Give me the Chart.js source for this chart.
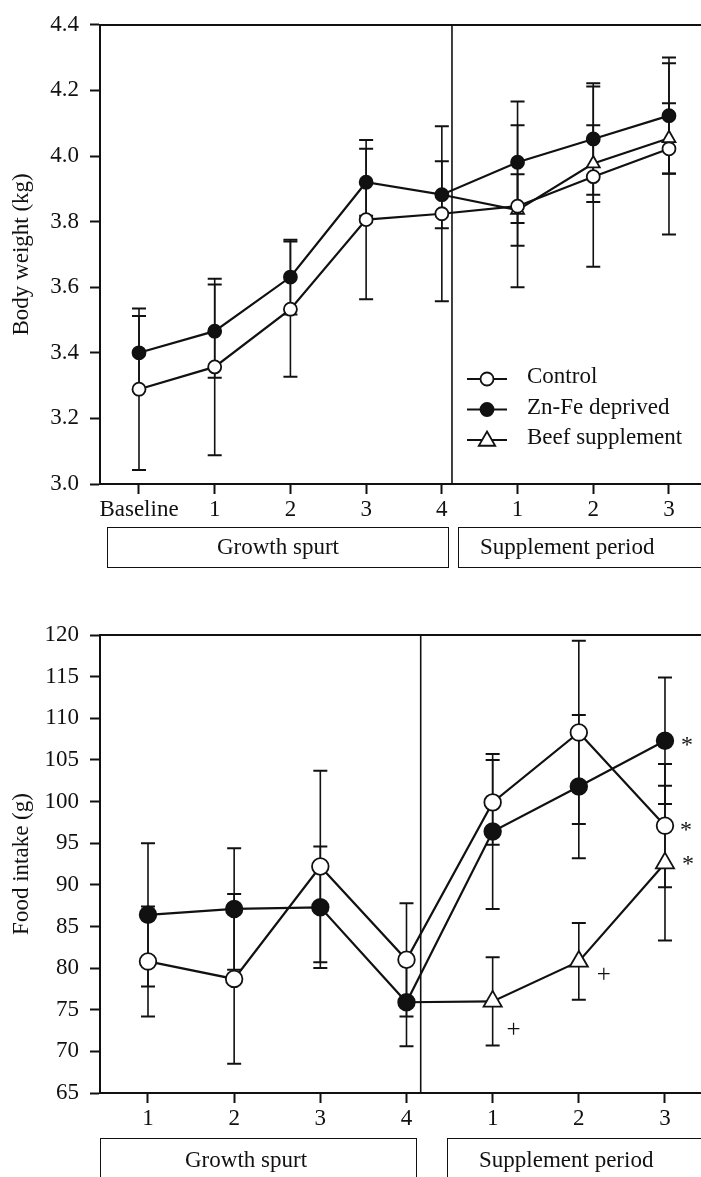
<!DOCTYPE html>
<html>
<head>
<meta charset="utf-8">
<script src="https://cdn.jsdelivr.net/npm/chart.js@4.4.1/dist/chart.umd.min.js"></script>
<style>
  html, body { margin: 0; padding: 0; background: #fff; }
  body { width: 701px; height: 1177px; position: relative; overflow: hidden; font-family: "Liberation Serif", "Times New Roman", serif; }
  canvas { position: absolute; left: 0; }
  #weightChart { top: 0; }
  #intakeChart { top: 590px; }
  .period { position: absolute; box-sizing: border-box; border: 1.5px solid #111; font-size: 23px; color: #111; white-space: nowrap; }
</style>
</head>
<body>
<canvas id="weightChart" width="701" height="600"></canvas>
<canvas id="intakeChart" width="701" height="587"></canvas>

<div class="period" style="left:107px;top:527px;width:342px;height:41px;line-height:38px;text-align:center;">Growth spurt</div>
<div class="period" style="left:458px;top:527px;width:300px;height:41px;line-height:38px;padding-left:21px;">Supplement period</div>
<div class="period" style="left:100px;top:1138px;width:317px;height:60px;line-height:42px;padding-left:84px;">Growth spurt</div>
<div class="period" style="left:447px;top:1138px;width:300px;height:60px;line-height:42px;padding-left:31px;">Supplement period</div>

<script>
// ------------------ Data ------------------
const seriesNames = ['Control', 'Zn-Fe deprived', 'Beef supplement'];

// body weight (kg), mean and SD per week
const weekLabels = ['Baseline', '1', '2', '3', '4', '1', '2', '3'];
const weightTicks = [3.0, 3.2, 3.4, 3.6, 3.8, 4.0, 4.2, 4.4];
const controlWeight = [3.289, 3.357, 3.533, 3.806, 3.824, 3.847, 3.937, 4.022];
const controlWeightSd = [0.246, 0.269, 0.206, 0.243, 0.267, 0.247, 0.275, 0.261];
const znfeWeight = [3.4, 3.466, 3.631, 3.92, 3.882, 3.981, 4.052, 4.123];
const znfeWeightSd = [0.112, 0.142, 0.114, 0.102, 0.102, 0.185, 0.17, 0.177];
const beefWeight = [null, null, null, null, 3.882, 3.835, 3.977, 4.054];
const beefWeightSd = [null, null, null, null, null, 0.109, 0.117, 0.107];

// food intake (g)
const intakeLabels = ['1', '2', '3', '4', '1', '2', '3'];
const intakeTicks = [65, 70, 75, 80, 85, 90, 95, 100, 105, 110, 115, 120];
const controlIntake = [80.8, 78.7, 92.2, 81.0, 99.9, 108.3, 97.1];
const controlIntakeSd = [6.6, 10.2, 11.5, 6.8, 5.1, 11.0, 7.4];
const znfeIntake = [86.4, 87.1, 87.3, 75.9, 96.4, 101.8, 107.3];
const znfeIntakeSd = [8.6, 7.3, 7.3, 5.3, 9.3, 8.6, 7.6];
const beefIntake = [null, null, null, 75.9, 76.0, 80.8, 92.6];
const beefIntakeSd = [null, null, null, null, 5.3, 4.6, 9.3];

const INK = '#111';
Chart.defaults.font.family = '"Liberation Serif", "Times New Roman", serif';
Chart.defaults.font.size = 23;
Chart.defaults.color = INK;

// ------------------ Helpers ------------------
function toPoints(values, sds) {
    const pts = [];
    values.forEach(function(v, i) {
        if (v !== null) pts.push({ x: i, y: v, sd: sds[i] });
    });
    return pts;
}

function drawMarker(ctx, style, x, y, r, fill) {
    ctx.beginPath();
    if (style === 'triangle') {
        ctx.moveTo(x, y - r);
        ctx.lineTo(x + r * 0.866, y + r / 2);
        ctx.lineTo(x - r * 0.866, y + r / 2);
        ctx.closePath();
    } else {
        ctx.arc(x, y, r, 0, Math.PI * 2);
    }
    ctx.fillStyle = fill;
    ctx.fill();
    ctx.stroke();
}

function makeDatasets(control, znfe, beef, size) {
    const line = { borderColor: INK, borderWidth: 2.2, tension: 0, fill: false, pointBorderColor: INK, pointBorderWidth: 1.8 };
    return [
        Object.assign({}, line, { label: seriesNames[0], data: control, pointStyle: 'circle', pointRadius: size.circle, pointBackgroundColor: '#fff' }),
        Object.assign({}, line, { label: seriesNames[1], data: znfe, pointStyle: 'circle', pointRadius: size.circle, pointBackgroundColor: INK }),
        // first beef point sits on the Zn-Fe mean, so no marker there
        Object.assign({}, line, { label: seriesNames[2], data: beef, pointStyle: 'triangle',
            pointRadius: function(c) { return c.dataIndex === 0 ? 0 : size.triangle; }, pointBackgroundColor: '#fff' })
    ];
}

// ------------------ Plugins ------------------
const errorBars = {
    id: 'errorBars',
    beforeDatasetsDraw: function(chart, args, opts) {
        const ctx = chart.ctx, x = chart.scales.x, y = chart.scales.y;
        ctx.save();
        ctx.strokeStyle = INK;
        chart.data.datasets.forEach(function(ds) {
            ds.data.forEach(function(pt) {
                if (pt.sd == null) return;
                const px = x.getPixelForValue(pt.x);
                const top = y.getPixelForValue(pt.y + pt.sd);
                const bottom = y.getPixelForValue(pt.y - pt.sd);
                ctx.lineWidth = 1.6;
                ctx.beginPath();
                ctx.moveTo(px, top);
                ctx.lineTo(px, bottom);
                ctx.stroke();
                ctx.lineWidth = 2;
                ctx.beginPath();
                ctx.moveTo(px - opts.cap, top);
                ctx.lineTo(px + opts.cap, top);
                ctx.moveTo(px - opts.cap, bottom);
                ctx.lineTo(px + opts.cap, bottom);
                ctx.stroke();
            });
        });
        ctx.restore();
    }
};

const periodLine = {
    id: 'periodLine',
    beforeDatasetsDraw: function(chart, args, opts) {
        const ctx = chart.ctx, area = chart.chartArea;
        const px = chart.scales.x.getPixelForValue(opts.at);
        ctx.save();
        ctx.strokeStyle = INK;
        ctx.lineWidth = 1.6;
        ctx.beginPath();
        ctx.moveTo(px, area.top);
        ctx.lineTo(px, area.bottom);
        ctx.stroke();
        ctx.restore();
    }
};

const keyBox = {
    id: 'keyBox',
    afterDatasetsDraw: function(chart, args, opts) {
        const ctx = chart.ctx;
        ctx.save();
        ctx.strokeStyle = INK;
        ctx.font = '23px "Liberation Serif", serif';
        ctx.textBaseline = 'middle';
        chart.data.datasets.forEach(function(ds, i) {
            const y = opts.y + i * opts.gap;
            ctx.lineWidth = 2;
            ctx.beginPath();
            ctx.moveTo(opts.x, y);
            ctx.lineTo(opts.x + 40, y);
            ctx.stroke();
            ctx.lineWidth = 1.8;
            const tri = ds.pointStyle === 'triangle';
            drawMarker(ctx, ds.pointStyle, opts.x + 20, y + (tri ? 1 : 0), tri ? 9.5 : 6.5, ds.pointBackgroundColor);
            ctx.fillStyle = INK;
            ctx.fillText(ds.label, opts.x + 60, y - 2);
        });
        ctx.restore();
    }
};

const marks = {
    id: 'marks',
    afterDatasetsDraw: function(chart, args, opts) {
        const ctx = chart.ctx, x = chart.scales.x, y = chart.scales.y;
        ctx.save();
        ctx.fillStyle = INK;
        ctx.textAlign = 'center';
        ctx.textBaseline = 'middle';
        opts.items.forEach(function(m) {
            const pt = chart.data.datasets[m.ds].data.find(function(p) { return p.x === m.i; });
            ctx.font = (m.text === '*' ? '24px' : '25px') + ' "Liberation Serif", serif';
            ctx.fillText(m.text, x.getPixelForValue(pt.x) + m.dx, y.getPixelForValue(pt.y) + m.dy);
        });
        ctx.restore();
    }
};

// ------------------ Chart builder ------------------
function periodChart(id, opt) {
    const grid = { display: true, drawOnChartArea: false, drawTicks: true, tickLength: 10, tickWidth: 2, tickColor: INK };
    const border = { display: true, color: INK, width: 2 };
    return new Chart(document.getElementById(id), {
        type: 'line',
        data: { datasets: opt.datasets },
        options: {
            responsive: false,
            animation: false,
            events: [],
            layout: { autoPadding: false, padding: { top: opt.padTop, bottom: opt.padBottom, left: 0, right: 0 } },
            plugins: {
                legend: { display: false },
                tooltip: { enabled: false },
                errorBars: { cap: 7 },
                periodLine: { at: opt.split },
                keyBox: opt.key,
                marks: opt.marks
            },
            scales: {
                x: {
                    type: 'linear', min: opt.xMin, max: opt.xMax,
                    afterBuildTicks: function(s) { s.ticks = opt.labels.map(function(_, i) { return { value: i }; }); },
                    afterFit: function(s) { s.height = 40; },
                    ticks: { padding: 2, maxRotation: 0, autoSkip: false, callback: function(v) { return opt.labels[v]; } },
                    grid: grid, border: border
                },
                frameTop: {
                    type: 'linear', position: 'top',
                    grid: { display: false }, ticks: { display: false }, border: border,
                    afterFit: function(s) { s.height = 0; }
                },
                y: {
                    min: opt.ticks[0], max: opt.ticks[opt.ticks.length - 1],
                    afterBuildTicks: function(s) { s.ticks = opt.ticks.map(function(v) { return { value: v }; }); },
                    afterFit: function(s) { s.width = 100; },
                    ticks: { padding: 11, callback: opt.fmt },
                    title: { display: true, text: opt.title, padding: { top: 8, bottom: 0 } },
                    grid: grid, border: border
                }
            }
        },
        plugins: opt.plugins
    });
}

periodChart('weightChart', {
    datasets: makeDatasets(toPoints(controlWeight, controlWeightSd), toPoints(znfeWeight, znfeWeightSd),
        toPoints(beefWeight, beefWeightSd), { circle: 6.5, triangle: 7.5 }),
    labels: weekLabels, ticks: weightTicks,
    fmt: function(v) { return v.toFixed(1); },
    title: 'Body weight (kg)',
    xMin: -0.515, xMax: 7.423, split: 4.134,
    padTop: 24, padBottom: 76,
    key: { x: 467, y: 379, gap: 30.5 },
    marks: { items: [] },
    plugins: [errorBars, periodLine, keyBox]
});

periodChart('intakeChart', {
    datasets: makeDatasets(toPoints(controlIntake, controlIntakeSd), toPoints(znfeIntake, znfeIntakeSd),
        toPoints(beefIntake, beefIntakeSd), { circle: 8.3, triangle: 10.5 }),
    labels: intakeLabels, ticks: intakeTicks,
    fmt: function(v) { return String(v); },
    title: 'Food intake (g)',
    xMin: -0.557, xMax: 6.418, split: 3.165,
    padTop: 45, padBottom: 44,
    key: { x: 0, y: 0, gap: 0 },
    marks: { items: [
        { ds: 1, i: 6, text: '*', dx: 22, dy: 5 },
        { ds: 0, i: 6, text: '*', dx: 21, dy: 5 },
        { ds: 2, i: 6, text: '*', dx: 23, dy: 2 },
        { ds: 2, i: 4, text: '+', dx: 21, dy: 29 },
        { ds: 2, i: 5, text: '+', dx: 25, dy: 14 }
    ] },
    plugins: [errorBars, periodLine, marks]
});
</script>
</body>
</html>
